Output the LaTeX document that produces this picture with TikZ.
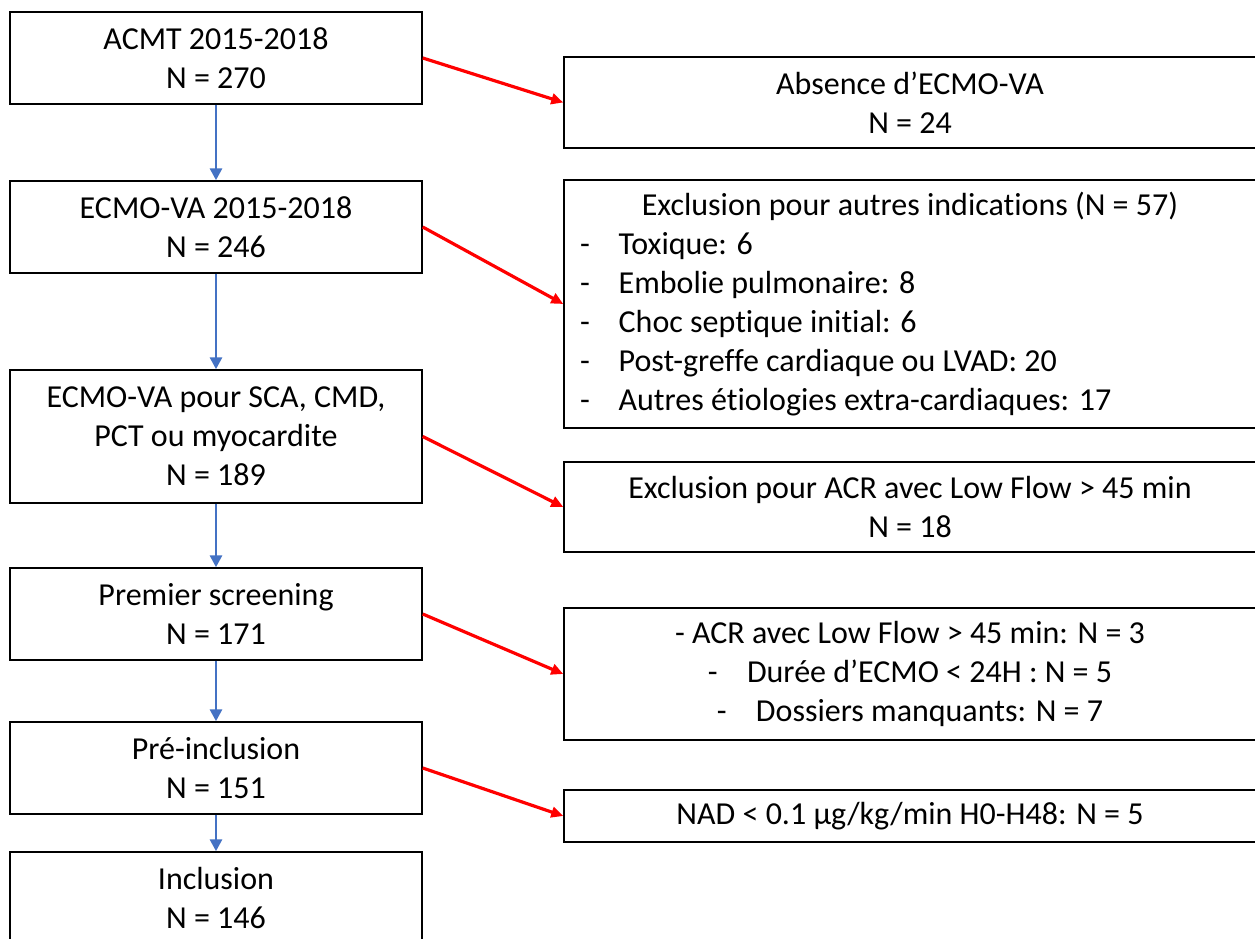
\documentclass[tikz,border=0pt]{standalone}
\usepackage{fontspec}
\setmainfont{Carlito}[RawFeature={-liga;-clig;-dlig;-calt}]
\usetikzlibrary{arrows.meta}
\definecolor{offblue}{HTML}{4472C4}
\tikzset{
  lbox/.style={draw=black, line width=1.1pt, minimum width=309pt, inner sep=0pt, align=center,
    font=\fontsize{24pt}{29.25pt}\selectfont},
  rbox/.style={draw=black, line width=1.1pt, minimum width=519pt, inner sep=0pt, align=center,
    font=\fontsize{24pt}{29.25pt}\selectfont},
  down/.style={draw=offblue, line width=2.2pt, -{Triangle[length=9pt,width=9pt]}},
  side/.style={draw=red, line width=2.4pt, -{Triangle[length=9pt,width=8pt]}}
}
\newcommand{\itm}[1]{\makebox[29pt][l]{-}#1}
\begin{document}
\begin{tikzpicture}[x=0.75pt,y=-0.75pt]
\useasboundingbox (0,0) rectangle (1255,938);
\fill[white] (0,0) rectangle (1255,938);
% left column
\node[lbox, minimum height=69pt] (l1) at (216,58) {ACMT 2015-2018\\N = 270};
\node[lbox, minimum height=69pt] (l2) at (216,227) {ECMO-VA 2015-2018\\N = 246};
\node[lbox, minimum height=99.75pt] (l3) at (216,436.5) {ECMO-VA pour SCA, CMD,\\PCT ou myocardite\\N = 189};
\node[lbox, minimum height=69pt] (l4) at (216,614) {Premier screening\\N = 171};
\node[lbox, minimum height=69pt] (l5) at (216,768) {Pré-inclusion\\N = 151};
\node[lbox, minimum height=69pt] (l6) at (216,898) {Inclusion\\N = 146};
% right column
\node[rbox, minimum height=68.25pt] (r1) at (910,102.5) {Absence d’ECMO-VA\\N = 24};
\node[rbox, minimum height=186pt, inner xsep=12pt, align=left] (r2) at (910,304) {%
  \begin{minipage}{495pt}\fontsize{24pt}{29.25pt}\selectfont
  \centering Exclusion pour autres indications (N = 57)\par
  \raggedright
  \itm{Toxique: 6}\par
  \itm{Embolie pulmonaire: 8}\par
  \itm{Choc septique initial: 6}\par
  \itm{Post-greffe cardiaque ou LVAD: 20}\par
  \itm{Autres étiologies extra-cardiaques: 17}\par
  \end{minipage}};
\node[rbox, minimum height=67.5pt] (r3) at (910,507) {Exclusion pour ACR avec Low Flow > 45 min\\N = 18};
\node[rbox, minimum height=99pt] (r4) at (910,674) {- ACR avec Low Flow > 45 min: N = 3\\-\hspace{22pt}Durée d’ECMO < 24H : N = 5\\-\hspace{22pt}Dossiers manquants: N = 7};
\node[rbox, minimum height=39pt] (r5) at (910,816) {NAD < 0.1 µg/kg/min H0-H48: N = 5};
% connectors
\draw[down] (l1.south) -- (l2.north);
\draw[down] (l2.south) -- (l3.north);
\draw[down] (l3.south) -- (l4.north);
\draw[down] (l4.south) -- (l5.north);
\draw[down] (l5.south) -- (l6.north);
\draw[side] (l1.east) -- (r1.west);
\draw[side] (l2.east) -- (r2.west);
\draw[side] (l3.east) -- (r3.west);
\draw[side] (l4.east) -- (r4.west);
\draw[side] (l5.east) -- (r5.west);
\end{tikzpicture}
\end{document}
